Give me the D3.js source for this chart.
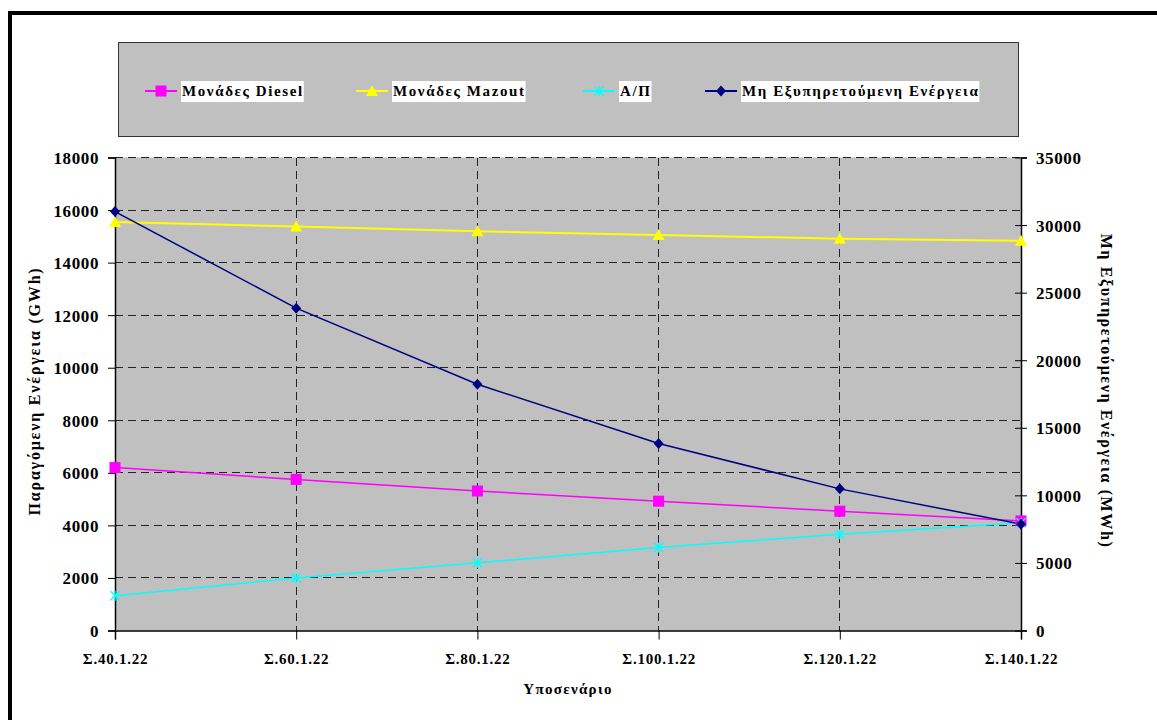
<!DOCTYPE html>
<html>
<head>
<meta charset="utf-8">
<script src="https://cdn.jsdelivr.net/npm/d3@7"></script>
<style>
  html, body { margin: 0; padding: 0; background: #fff; }
  svg { display: block; }
  text { font-family: "Liberation Serif", "Times New Roman", serif; font-weight: bold; fill: #000; }
</style>
</head>
<body>
<svg id="chart" width="1157" height="720"></svg>
<script>
// ---------- data ----------
const categories = ["Σ.40.1.22", "Σ.60.1.22", "Σ.80.1.22", "Σ.100.1.22", "Σ.120.1.22", "Σ.140.1.22"];
const dieselValues   = [6200, 5750, 5310, 4920, 4540, 4170];       // GWh, left axis
const mazoutValues   = [15550, 15370, 15190, 15050, 14910, 14830]; // GWh, left axis
const apValues       = [1320, 2000, 2580, 3160, 3660, 4100];        // GWh, left axis
const unservedValues = [31000, 23850, 18220, 13840, 10480, 7870];   // MWh, right axis
const leftTicks  = [0, 2000, 4000, 6000, 8000, 10000, 12000, 14000, 16000, 18000];
const rightTicks = [0, 5000, 10000, 15000, 20000, 25000, 30000, 35000];
const seriesNames = ["Μονάδες Diesel", "Μονάδες Mazout", "Α/Π", "Μη Εξυπηρετούμενη Ενέργεια"];
const leftTitle = "Παραγόμενη Ενέργεια (GWh)";
const rightTitle = "Μη Εξυπηρετούμενη Ενέργεια (MWh)";
const xTitle = "Υποσενάριο";

// ---------- layout ----------
const svg = d3.select("#chart");
const plot = { left: 115, right: 1021, top: 157.5, bottom: 630.5 };
const FONT = "'Liberation Serif', 'Times New Roman', serif";

// outer frame (thick black, running off right/bottom)
svg.append("rect").attr("x", 10).attr("y", 13).attr("width", 1200).attr("height", 800)
  .attr("fill", "none").attr("stroke", "#000").attr("stroke-width", 4);

const x = d3.scalePoint().domain(categories).range([plot.left, plot.right]).padding(0);
const yL = d3.scaleLinear().domain([0, 18000]).range([plot.bottom, plot.top]);
const yR = d3.scaleLinear().domain([0, 35000]).range([plot.bottom, plot.top]);

// plot background
svg.append("rect").attr("x", plot.left).attr("y", plot.top)
  .attr("width", plot.right - plot.left).attr("height", plot.bottom - plot.top)
  .attr("fill", "#c0c0c0");

// horizontal gridlines
svg.append("g").selectAll("line").data(leftTicks.filter(d => d > 0)).join("line")
  .attr("x1", plot.left).attr("x2", plot.right)
  .attr("y1", d => yL(d)).attr("y2", d => yL(d))
  .attr("stroke", "#222").attr("stroke-width", 1).attr("stroke-dasharray", "8,5")
  .attr("shape-rendering", "crispEdges");

// vertical gridlines
svg.append("g").selectAll("line").data(categories.slice(1, -1)).join("line")
  .attr("x1", d => x(d)).attr("x2", d => x(d))
  .attr("y1", plot.top).attr("y2", plot.bottom)
  .attr("stroke", "#222").attr("stroke-width", 1).attr("stroke-dasharray", "8,5")
  .attr("shape-rendering", "crispEdges");

// left axis
const gL = svg.append("g").attr("transform", `translate(${plot.left},0)`)
  .call(d3.axisLeft(yL).tickValues(leftTicks).tickFormat(d3.format("d")).tickSize(7).tickPadding(9));
gL.attr("font-family", FONT);
gL.select(".domain").attr("stroke", "#000").attr("stroke-width", 1.5);
gL.selectAll(".tick line").attr("stroke", "#000");
gL.selectAll(".tick text").style("font-size", "17px").style("letter-spacing", "0.6px")
  .style("font-family", FONT).style("font-weight", "bold").attr("dy", "0.35em");

// right axis
const gR = svg.append("g").attr("transform", `translate(${plot.right},0)`)
  .call(d3.axisRight(yR).tickValues(rightTicks).tickFormat(d3.format("d")).tickSize(6).tickPadding(9));
gR.attr("font-family", FONT);
gR.select(".domain").attr("stroke", "#000").attr("stroke-width", 1.5);
gR.selectAll(".tick line").attr("x1", -6).attr("stroke", "#000");
gR.selectAll(".tick text").style("font-size", "17px").style("letter-spacing", "0.6px")
  .style("font-family", FONT).style("font-weight", "bold").attr("dy", "0.35em");

// bottom axis
const gB = svg.append("g").attr("transform", `translate(0,${plot.bottom})`)
  .call(d3.axisBottom(x).tickSize(9).tickPadding(14));
gB.attr("font-family", FONT);
gB.select(".domain").attr("stroke", "#000").attr("stroke-width", 1.5);
gB.selectAll(".tick line").attr("stroke", "#000");
gB.selectAll(".tick text").style("font-size", "15px").style("letter-spacing", "0.75px")
  .style("font-family", FONT).style("font-weight", "bold");

// axis titles
svg.append("text").attr("transform", `translate(40,391) rotate(-90)`)
  .attr("text-anchor", "middle").style("font-size", "16px").style("letter-spacing", "1.8px")
  .text(leftTitle);
svg.append("text").attr("transform", `translate(1101,391) rotate(90)`)
  .attr("text-anchor", "middle").style("font-size", "16px").style("letter-spacing", "1.6px")
  .text(rightTitle);
svg.append("text").attr("x", 568).attr("y", 694)
  .attr("text-anchor", "middle").style("font-size", "15px").style("letter-spacing", "1.3px")
  .text(xTitle);

// ---------- series ----------
const series = [
  { name: seriesNames[0], values: dieselValues,   y: yL, color: "#ff00ff", marker: "square",   width: 1.5 },
  { name: seriesNames[1], values: mazoutValues,   y: yL, color: "#ffff00", marker: "triangle", width: 2 },
  { name: seriesNames[2], values: apValues,       y: yL, color: "#00ffff", marker: "star",     width: 1.5 },
  { name: seriesNames[3], values: unservedValues, y: yR, color: "#000080", marker: "diamond",  width: 1.5 }
];

function drawMarker(g, type, cx, cy, color) {
  if (type === "square") {
    g.append("rect").attr("x", cx - 5.5).attr("y", cy - 5.5).attr("width", 11).attr("height", 11).attr("fill", color);
  } else if (type === "triangle") {
    g.append("path").attr("d", `M${cx},${cy - 6}L${cx + 6},${cy + 5}L${cx - 6},${cy + 5}Z`).attr("fill", color);
  } else if (type === "diamond") {
    g.append("path").attr("d", `M${cx},${cy - 5.5}L${cx + 5},${cy}L${cx},${cy + 5.5}L${cx - 5},${cy}Z`).attr("fill", color);
  } else if (type === "star") {
    g.append("path").attr("d", `M${cx - 4.5},${cy - 4.5}L${cx + 4.5},${cy + 4.5}M${cx - 4.5},${cy + 4.5}L${cx + 4.5},${cy - 4.5}M${cx},${cy - 5}L${cx},${cy + 5}`)
      .attr("stroke", color).attr("stroke-width", 1.3).attr("fill", "none");
  }
}

const gS = svg.append("g");
series.forEach(s => {
  const line = d3.line().x((d, i) => x(categories[i])).y(d => s.y(d));
  gS.append("path").datum(s.values).attr("d", line)
    .attr("fill", "none").attr("stroke", s.color).attr("stroke-width", s.width);
});
series.forEach(s => {
  const gm = gS.append("g");
  s.values.forEach((v, i) => drawMarker(gm, s.marker, x(categories[i]), s.y(v), s.color));
});

// ---------- legend ----------
const legendBox = { x: 118.5, y: 42.5, w: 900, h: 94 };
svg.append("rect").attr("x", legendBox.x).attr("y", legendBox.y)
  .attr("width", legendBox.w).attr("height", legendBox.h)
  .attr("fill", "#c0c0c0").attr("stroke", "#333").attr("stroke-width", 1);

const legendX = [145, 356, 583, 705];
const legendY = 91;
series.forEach((s, i) => {
  const g = svg.append("g");
  const lx = legendX[i];
  g.append("line").attr("x1", lx).attr("x2", lx + 32).attr("y1", legendY).attr("y2", legendY)
    .attr("stroke", s.color).attr("stroke-width", 2);
  drawMarker(g, s.marker, lx + 16, legendY, s.color);
  const bg = g.append("rect").attr("fill", "#fff");
  const t = g.append("text").attr("x", lx + 37).attr("y", legendY + 5)
    .style("font-size", "15px").style("letter-spacing", "1.6px").text(s.name);
  const bb = t.node().getBBox();
  bg.attr("x", lx + 36).attr("y", 81).attr("width", bb.width + 1).attr("height", 21);
});
</script>
</body>
</html>
